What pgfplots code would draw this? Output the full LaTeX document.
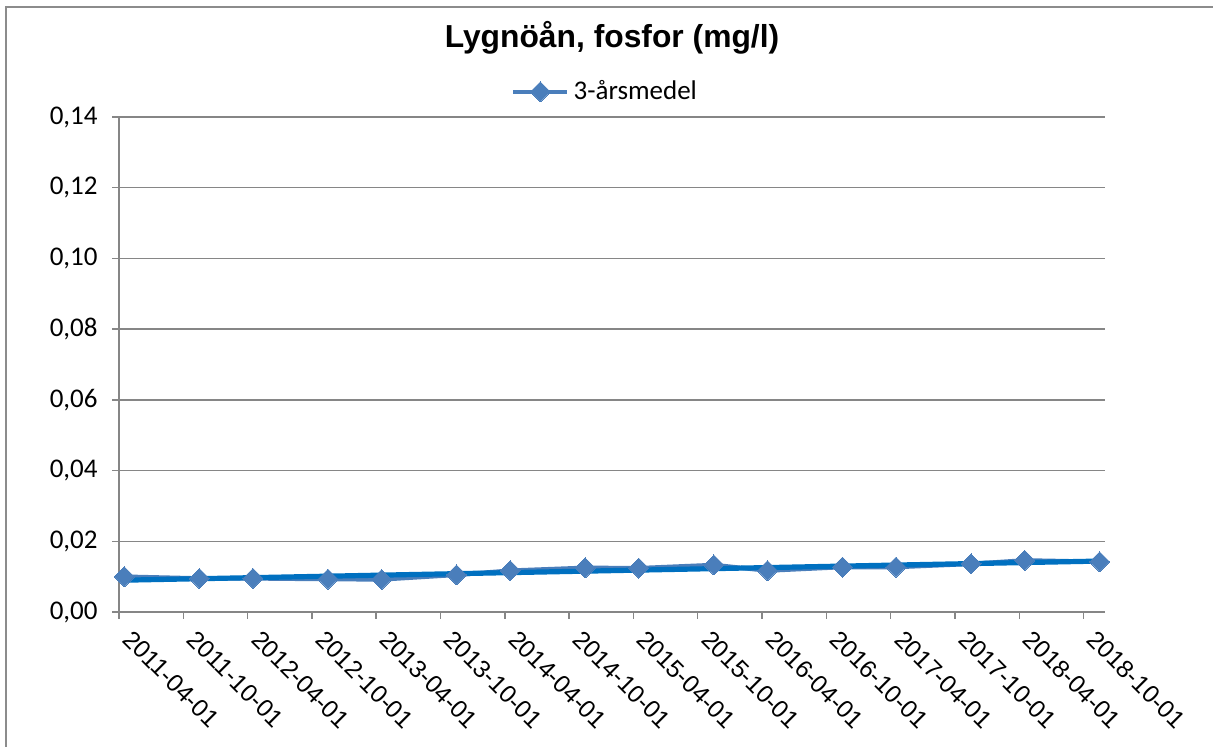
\documentclass[border=0pt]{standalone}
\usepackage{fontspec}
\setmainfont{Carlito}
\newfontfamily\arial{Liberation Sans}
\usepackage{pgfplots}
\pgfplotsset{compat=1.18}
\definecolor{serie}{HTML}{4A7EBB}
\definecolor{trend}{HTML}{0070C0}
\definecolor{gridc}{HTML}{868686}
\definecolor{framec}{HTML}{8C8C8C}
\begin{document}
\begin{tikzpicture}
\useasboundingbox (0,0) rectangle (606.5pt,373.5pt);
\draw[framec, line width=1pt] (3pt,0) -- (3pt,369.75pt) -- (606.5pt,369.75pt);
\begin{axis}[
  at={(59.5pt,67.5pt)}, anchor=south west,
  scale only axis, width=493pt, height=247.5pt,
  xmin=0, xmax=92, ymin=0, ymax=0.14,
  axis x line*=bottom, axis y line*=left,
  axis line style={gridc, line width=0.75pt, -},
  clip=false,
  xtick={0,6,...,90},
  xticklabels={2011-04-01,2011-10-01,2012-04-01,2012-10-01,2013-04-01,2013-10-01,2014-04-01,2014-10-01,2015-04-01,2015-10-01,2016-04-01,2016-10-01,2017-04-01,2017-10-01,2018-04-01,2018-10-01},
  ytick={0,0.02,...,0.14},
  yticklabels={{0,00},{0,02},{0,04},{0,06},{0,08},{0,10},{0,12},{0,14}},
  tick align=outside, major tick length=3.5pt,
  tick style={gridc, line width=0.75pt},
  ymajorgrids, grid style={gridc, line width=0.75pt},
  xticklabel style={font=\arial\fontsize{12.3}{14}\selectfont, rotate=-45, anchor=north west, inner sep=0pt, xshift=8.5pt, yshift=1.8pt},
  yticklabel style={font=\fontsize{13.5}{15}\selectfont, anchor=east, inner sep=0pt, xshift=-7pt},
  title={Lygnöån, fosfor (mg/l)},
  title style={font=\arial\bfseries\fontsize{15.9}{18}\selectfont, at={(axis description cs:0.5,1.1166)}, anchor=base, inner sep=0pt},
  legend style={at={(axis description cs:0.494,1.051)}, anchor=center, draw=none, fill=none, font=\fontsize{13.5}{15}\selectfont, inner sep=0pt, nodes={inner xsep=2pt, inner ysep=0pt}},
  legend cell align=left,
  legend image code/.code={\draw[#1, mark repeat=2, mark phase=2] plot coordinates {(0pt,0pt) (13.5pt,0pt) (27pt,0pt)};},
]
\addplot[serie, line width=2.2pt, mark=square*, mark size=3.54pt, mark options={rotate=45, fill=serie, draw=serie, line width=0pt}] coordinates {
(0.5,0.0100) (7.5,0.0095) (12.5,0.0095) (19.5,0.0093) (24.5,0.0092) (31.5,0.0105) (36.5,0.0117) (43.5,0.0125)
(48.5,0.0124) (55.5,0.0133) (60.5,0.0117) (67.5,0.0127) (72.5,0.0127) (79.5,0.0136) (84.5,0.0146) (91.5,0.0142)
};
\addlegendentry{3-årsmedel}
\addplot[trend, line width=2.6pt, line cap=round, forget plot] coordinates {(0.5,0.0090) (91.5,0.0144)};
\end{axis}
\end{tikzpicture}
\end{document}
